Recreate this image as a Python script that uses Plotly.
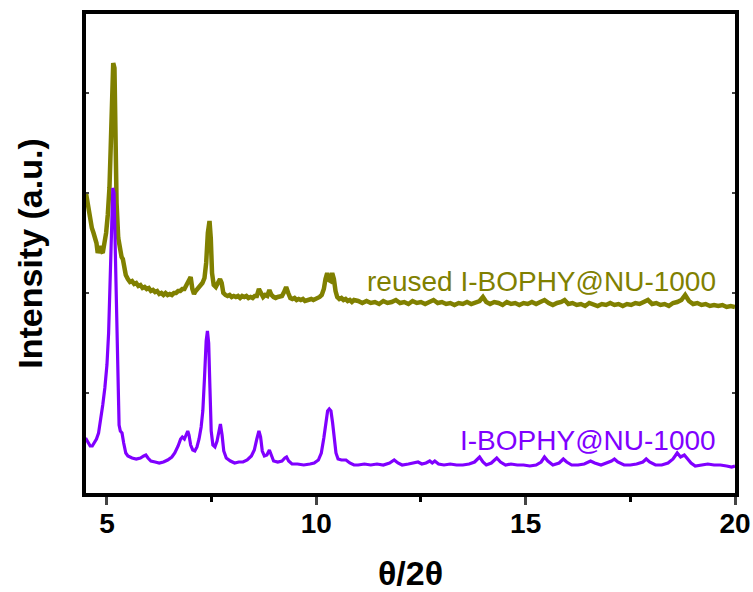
import plotly.graph_objects as go

# I-BOPHY@NU-1000 (purple)
x_pristine = [4.49, 4.55, 4.60, 4.65, 4.70, 4.75, 4.80, 4.85, 4.90, 4.95, 5.00, 5.04, 5.08, 5.11, 5.14,
              5.17, 5.20, 5.23, 5.26, 5.29, 5.32, 5.36, 5.40, 5.45, 5.50, 5.60, 5.70, 5.80, 5.88, 5.93,
              5.98, 6.05, 6.15, 6.25, 6.35, 6.45, 6.55, 6.62, 6.70, 6.76, 6.80, 6.85, 6.90, 6.93, 6.96,
              7.00, 7.05, 7.10, 7.15, 7.20, 7.25, 7.29, 7.33, 7.37, 7.40, 7.43, 7.46, 7.49, 7.53, 7.58,
              7.63, 7.67, 7.71, 7.75, 7.79, 7.85, 7.95, 8.05, 8.15, 8.25, 8.35, 8.45, 8.52, 8.58, 8.63,
              8.67, 8.71, 8.76, 8.82, 8.88, 8.93, 8.98, 9.08, 9.18, 9.25, 9.29, 9.34, 9.42, 9.55, 9.70,
              9.85, 9.95, 10.05, 10.12, 10.18, 10.23, 10.27, 10.31, 10.35, 10.39, 10.43, 10.47, 10.52,
              10.60, 10.71, 10.80, 10.90, 11.00, 11.15, 11.30, 11.45, 11.60, 11.75, 11.86, 11.95, 12.05,
              12.20, 12.35, 12.43, 12.52, 12.62, 12.71, 12.77, 12.83, 12.92, 13.05, 13.20, 13.35, 13.50,
              13.65, 13.78, 13.90, 13.98, 14.06, 14.18, 14.31, 14.40, 14.52, 14.65, 14.80, 14.95, 15.10,
              15.25, 15.37, 15.45, 15.53, 15.65, 15.80, 15.90, 15.98, 16.10, 16.25, 16.40, 16.55, 16.65,
              16.80, 16.95, 17.05, 17.12, 17.20, 17.35, 17.50, 17.65, 17.80, 17.88, 17.96, 18.10, 18.25,
              18.40, 18.52, 18.62, 18.70, 18.79, 18.86, 18.95, 19.05, 19.20, 19.35, 19.50, 19.65, 19.80,
              19.92, 20.00]
y_pristine = [0.55, 0.50, 0.47, 0.47, 0.50, 0.54, 0.60, 0.72, 0.88, 1.05, 1.28, 1.60, 2.10, 2.65, 3.05,
              3.00, 2.40, 1.50, 0.95, 0.68, 0.62, 0.60, 0.50, 0.40, 0.37, 0.35, 0.34, 0.35, 0.37, 0.38,
              0.35, 0.32, 0.31, 0.30, 0.31, 0.33, 0.36, 0.40, 0.47, 0.54, 0.56, 0.54, 0.59, 0.62, 0.58,
              0.48, 0.43, 0.42, 0.46, 0.54, 0.66, 0.82, 1.15, 1.52, 1.62, 1.50, 1.05, 0.62, 0.48, 0.46,
              0.52, 0.63, 0.69, 0.58, 0.42, 0.35, 0.32, 0.30, 0.31, 0.31, 0.33, 0.37, 0.43, 0.54, 0.62,
              0.56, 0.42, 0.37, 0.38, 0.43, 0.37, 0.32, 0.31, 0.32, 0.35, 0.36, 0.32, 0.29, 0.29, 0.28,
              0.29, 0.30, 0.33, 0.40, 0.55, 0.72, 0.82, 0.84, 0.82, 0.70, 0.52, 0.40, 0.34,
              0.33, 0.33, 0.30, 0.28, 0.28, 0.29, 0.28, 0.29, 0.28, 0.30, 0.33, 0.30, 0.28,
              0.29, 0.30, 0.31, 0.29, 0.30, 0.32, 0.30, 0.32, 0.29, 0.28, 0.29, 0.28, 0.28,
              0.29, 0.31, 0.36, 0.31, 0.28, 0.30, 0.35, 0.31, 0.28, 0.29, 0.28, 0.28, 0.27,
              0.28, 0.31, 0.36, 0.32, 0.28, 0.30, 0.34, 0.31, 0.28, 0.28, 0.29, 0.32, 0.30,
              0.28, 0.30, 0.32, 0.34, 0.31, 0.28, 0.28, 0.29, 0.31, 0.34, 0.31, 0.28, 0.28,
              0.30, 0.34, 0.40, 0.36, 0.38, 0.34, 0.30, 0.27, 0.28, 0.29, 0.28, 0.28, 0.27,
              0.26, 0.27]

# reused I-BOPHY@NU-1000 (olive)
x_reused = [4.50, 4.55, 4.60, 4.64, 4.68, 4.72, 4.75, 4.78, 4.80, 4.83, 4.86, 4.90, 4.94, 4.98, 5.02,
            5.06, 5.09, 5.12, 5.15, 5.18, 5.20, 5.23, 5.27, 5.31, 5.35, 5.38, 5.41, 5.45, 5.50, 5.55,
            5.60, 5.65, 5.70, 5.75, 5.80, 5.85, 5.90, 5.95, 6.00, 6.05, 6.10, 6.15, 6.20, 6.25, 6.30,
            6.35, 6.40, 6.45, 6.50, 6.55, 6.60, 6.65, 6.70, 6.75, 6.80, 6.85, 6.90, 6.95, 7.00, 7.04,
            7.08, 7.12, 7.17, 7.22, 7.28, 7.33, 7.37, 7.41, 7.45, 7.48, 7.51, 7.55, 7.60, 7.65, 7.70,
            7.74, 7.78, 7.83, 7.88, 7.93, 7.98, 8.03, 8.08, 8.13, 8.18, 8.23, 8.28, 8.33, 8.38, 8.43,
            8.48, 8.53, 8.58, 8.63, 8.68, 8.73, 8.78, 8.83, 8.88, 8.93, 8.98, 9.03, 9.08, 9.13, 9.18,
            9.23, 9.28, 9.33, 9.38, 9.43, 9.48, 9.53, 9.58, 9.63, 9.68, 9.73, 9.78, 9.83, 9.88, 9.93,
            9.98, 10.03, 10.08, 10.13, 10.18, 10.22, 10.26, 10.30, 10.34, 10.38, 10.42, 10.46, 10.50,
            10.55, 10.60, 10.65, 10.70, 10.75, 10.80, 10.85, 10.90, 11.00, 11.10, 11.20, 11.30, 11.40,
            11.50, 11.60, 11.70, 11.80, 11.90, 12.00, 12.10, 12.20, 12.30, 12.40, 12.50, 12.60, 12.70,
            12.80, 12.90, 13.00, 13.10, 13.20, 13.30, 13.40, 13.50, 13.60, 13.70, 13.80, 13.90, 13.98,
            14.06, 14.15, 14.25, 14.35, 14.45, 14.55, 14.65, 14.75, 14.85, 14.95, 15.05, 15.15, 15.25,
            15.35, 15.45, 15.55, 15.65, 15.75, 15.85, 15.93, 16.02, 16.12, 16.22, 16.32, 16.42, 16.52,
            16.62, 16.72, 16.82, 16.92, 17.02, 17.12, 17.22, 17.32, 17.42, 17.52, 17.62, 17.72, 17.82,
            17.92, 18.02, 18.12, 18.22, 18.32, 18.42, 18.52, 18.62, 18.72, 18.81, 18.90, 19.00, 19.10,
            19.20, 19.30, 19.40, 19.50, 19.60, 19.70, 19.80, 19.90, 20.00]
y_reused = [3.00, 2.86, 2.72, 2.65, 2.60, 2.55, 2.50, 2.40, 2.44, 2.47, 2.42, 2.40, 2.50, 2.60, 2.78,
            3.05, 3.45, 3.95, 4.30, 4.25, 3.70, 2.90, 2.55, 2.42, 2.36, 2.34, 2.24, 2.18, 2.14, 2.11,
            2.12, 2.09, 2.10, 2.07, 2.08, 2.05, 2.06, 2.04, 2.05, 2.02, 2.03, 2.01, 2.02, 1.99, 2.00,
            1.98, 2.00, 1.98, 1.99, 1.98, 2.00, 2.00, 2.02, 2.02, 2.04, 2.04, 2.08, 2.12, 2.16, 2.04,
            1.99, 2.02, 2.05, 2.07, 2.10, 2.15, 2.30, 2.60, 2.72, 2.55, 2.20, 2.08, 2.06, 2.10, 2.14,
            2.10, 2.00, 1.98, 1.97, 1.98, 1.96, 1.97, 1.96, 1.97, 1.95, 1.97, 1.96, 1.97, 1.95, 1.96,
            1.95, 1.97, 1.97, 2.04, 1.99, 1.96, 1.98, 1.97, 2.03, 1.98, 1.96, 1.95, 1.96, 1.96, 1.97,
            2.01, 2.06, 2.00, 1.95, 1.94, 1.95, 1.93, 1.94, 1.93, 1.94, 1.92, 1.93, 1.93, 1.94, 1.93,
            1.94, 1.94, 1.96, 1.98, 2.04, 2.14, 2.20, 2.13, 2.12, 2.20, 2.14, 2.02, 1.96,
            1.94, 1.95, 1.93, 1.94, 1.92, 1.93, 1.91, 1.93, 1.92, 1.90, 1.92, 1.90, 1.91,
            1.89, 1.92, 1.90, 1.91, 1.93, 1.90, 1.91, 1.89, 1.92, 1.90, 1.91, 1.89, 1.91,
            1.93, 1.90, 1.91, 1.89, 1.90, 1.88, 1.90, 1.89, 1.91, 1.89, 1.90, 1.92, 1.96,
            1.91, 1.89, 1.91, 1.90, 1.88, 1.91, 1.89, 1.90, 1.88, 1.90, 1.89, 1.91, 1.89,
            1.91, 1.93, 1.90, 1.88, 1.90, 1.91, 1.93, 1.89, 1.90, 1.88, 1.89, 1.87, 1.90,
            1.88, 1.87, 1.89, 1.88, 1.90, 1.88, 1.89, 1.87, 1.89, 1.88, 1.90, 1.89, 1.91,
            1.93, 1.89, 1.90, 1.88, 1.89, 1.87, 1.90, 1.91, 1.93, 1.98, 1.92, 1.89, 1.90,
            1.88, 1.89, 1.87, 1.88, 1.87, 1.88, 1.86, 1.87, 1.86]

x_ticks = [5, 10, 15, 20]
y_ticks = [1, 2, 3, 4]
label_reused = "reused I-BOPHY@NU-1000"
label_pristine = "I-BOPHY@NU-1000"

OLIVE = "#808000"
PURPLE = "#8000ff"
FONT = "Arial, Liberation Sans, sans-serif"

fig = go.Figure()
fig.add_trace(go.Scatter(x=x_reused, y=y_reused, mode="lines",
                         line=dict(color=OLIVE, width=4.5), showlegend=False))
fig.add_trace(go.Scatter(x=x_pristine, y=y_pristine, mode="lines",
                         line=dict(color=PURPLE, width=3.2), showlegend=False))

fig.add_annotation(x=19.59, y=2.12, text=label_reused, showarrow=False, xanchor="right",
                   yanchor="middle", font=dict(family=FONT, size=28, color=OLIVE))
fig.add_annotation(x=19.59, y=0.53, text=label_pristine, showarrow=False, xanchor="right",
                   yanchor="middle", font=dict(family=FONT, size=28, color=PURPLE))

fig.update_layout(
    width=753, height=592,
    margin=dict(l=86, r=18, t=14, b=99),
    plot_bgcolor="white", paper_bgcolor="white",
    font=dict(family=FONT, color="black"),
)
fig.update_xaxes(
    range=[4.5, 20], tickvals=x_ticks, ticks="outside", ticklen=8, tickwidth=3,
    automargin=False, ticklabelstandoff=-6,
    showline=True, linewidth=4, linecolor="black", mirror=True, showgrid=False, zeroline=False,
    tickfont=dict(family=FONT, size=28, weight="bold"),
    minor=dict(dtick=2.5, tick0=5, ticks="outside", ticklen=5, tickwidth=3, tickcolor="black", showgrid=False),
    title=dict(text="θ/2θ", standoff=25, font=dict(family=FONT, size=34, weight="bold")),
)
fig.update_yaxes(
    range=[0, 4.79], tickvals=y_ticks, ticks="inside", ticklen=3, tickwidth=2,
    showticklabels=False, automargin=False,
    showline=True, linewidth=4, linecolor="black", mirror="ticks", showgrid=False, zeroline=False,
    title=dict(text="Intensity (a.u.)", standoff=30, font=dict(family=FONT, size=34, weight="bold")),
)

fig.write_html("out.html")
